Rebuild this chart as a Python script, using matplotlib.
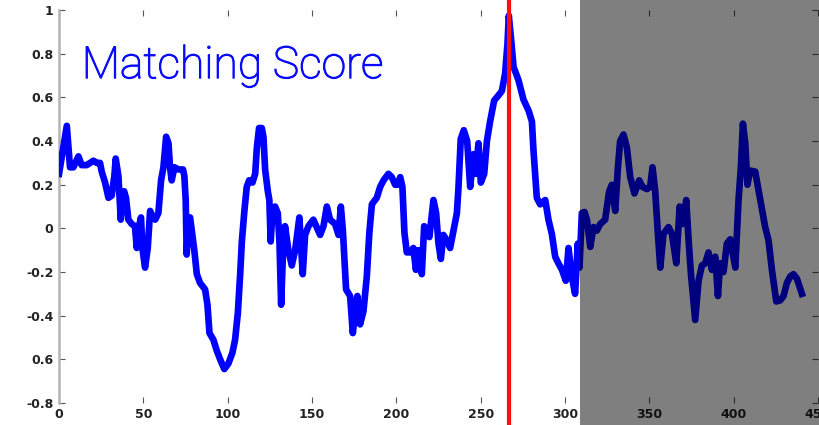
import matplotlib
matplotlib.use("Agg")
import matplotlib.pyplot as plt
import matplotlib.patheffects as pe
from matplotlib.patches import Rectangle

# matching score trace
frame = [0, 4.6, 6.5, 8.5, 11.5, 13.4, 16.4, 20.4, 22.4, 24.3, 25.3, 27.3, 29.3, 31.2,
         32.8, 33.6, 35.2, 36.6, 37.2, 38.6, 39.7, 41.1, 43.1, 45, 46.1, 47.4, 48.6, 49.4,
         51, 52.6, 54, 55.6, 57, 58.9, 60.5, 61.9, 63.5, 64.9, 65.8, 66.8, 68.4, 70.8,
         73.5, 74.3, 75.1, 75.7, 76.7, 77.7, 78.7, 80.2, 81.7, 83.6, 86.6, 88, 89.2, 91.5,
         93.5, 95.5, 98, 100.4, 102.8, 104.4, 106, 107.4, 108.4, 109.9, 111.3, 112.7,
         114.7, 116.3, 117.3, 118.6, 120.2, 121.2, 122.2, 123.8, 124.7, 125.5, 126.5,
         128.1, 129.7, 130.7, 131.7, 132.7, 134, 136, 138, 140, 142.5, 144.5, 145.9,
         147.9, 150.8, 154.8, 156.8, 158.8, 160.7, 163.7, 165.7, 167.1, 168.3, 170.2,
         172.6, 174.2, 175.6, 176.9, 178.5, 180.5, 182.5, 184, 185.5, 186.4, 188.4, 190.4,
         192.4, 195.3, 197.3, 199.3, 200.9, 202.3, 203.6, 204.8, 206.2, 208.2, 210.1,
         211.6, 213.1, 215.1, 216.5, 218.1, 219.6, 222, 223.6, 225, 226.4, 227.9, 229.9,
         231.9, 233.9, 235.9, 236.8, 238.2, 240, 242, 243.8, 245.7, 247.1, 248.7, 250.1,
         252.1, 253.7, 255.6, 258, 260.6, 262.6, 264.5, 265.9, 266.7, 268.3, 269.5,
         272.4, 275.4, 278.4, 280.4, 281.3, 283.3, 285.3, 288.3, 290.2, 292.2, 294.2,
         296.1, 298.2, 300.5, 302.1, 304, 306, 307.6, 308.6, 310, 311.6, 313, 315, 316.9,
         318.9, 320.9, 323.8, 326.2, 327.8, 329.8, 331.4, 332.7, 334.7, 336.7, 338.7,
         341.2, 344, 346, 348.6, 350.5, 351.9, 353.5, 355.1, 356.5, 358.4, 361.4, 363.4,
         366, 368, 369.9, 371.9, 373.3, 374.7, 377.2, 379.2, 381.2, 383.2, 385.1, 387.1,
         389.1, 390.7, 392, 394, 396, 398, 401, 402.9, 404.3, 405.5, 406.9, 408.2, 409.8,
         412.8, 415.8, 418.7, 420.7, 422.7, 425.3, 427.6, 429.6, 431.6, 433.6, 435.5,
         437.5, 440.5]
score = [0.25, 0.47, 0.28, 0.28, 0.33, 0.29, 0.29, 0.31, 0.30, 0.30, 0.26, 0.21, 0.14, 0.15,
         0.24, 0.32, 0.24, 0.04, 0.13, 0.17, 0.14, 0.04, 0.02, 0.01, -0.09, 0.01, 0.05, -0.09,
         -0.18, -0.09, 0.08, 0.05, 0.04, 0.07, 0.22, 0.28, 0.42, 0.39, 0.28, 0.22, 0.28, 0.27,
         0.27, 0.24, 0.13, -0.12, 0.04, 0.05, -0.01, -0.10, -0.21, -0.25, -0.28, -0.35, -0.48,
         -0.51, -0.56, -0.60, -0.645, -0.62, -0.57, -0.51, -0.39, -0.21, -0.06, 0.08, 0.19,
         0.22, 0.21, 0.25, 0.37, 0.46, 0.46, 0.42, 0.27, 0.17, 0.13, -0.06, 0.07, 0.10, 0.07,
         -0.06, -0.35, -0.13, 0.01, -0.10, -0.17, -0.10, 0.05, -0.21, -0.03, 0.01, 0.04, -0.03,
         0.01, 0.10, 0.04, 0.02, -0.03, 0.10, -0.01, -0.28, -0.31, -0.48, -0.38, -0.31, -0.44,
         -0.38, -0.22, -0.02, 0.11, 0.12, 0.14, 0.19, 0.22, 0.25, 0.235, 0.20, 0.20, 0.235,
         0.19, -0.02, -0.11, -0.11, -0.09, -0.19, -0.10, -0.21, 0.01, -0.01, -0.04, 0.13, 0.07,
         -0.07, -0.14, -0.03, -0.055, -0.09, -0.01, 0.07, 0.18, 0.41, 0.45, 0.40, 0.19, 0.34,
         0.25, 0.39, 0.21, 0.25, 0.40, 0.49, 0.586, 0.61, 0.63, 0.71, 0.845, 0.975, 0.845,
         0.74, 0.68, 0.59, 0.54, 0.49, 0.36, 0.14, 0.11, 0.13, 0.04, -0.025, -0.13, -0.16,
         -0.19, -0.24, -0.09, -0.22, -0.30, -0.07, -0.18, 0.07, 0.075, 0.04, -0.085, 0.006,
         -0.01, 0.02, 0.04, 0.17, 0.20, 0.08, 0.28, 0.40, 0.43, 0.37, 0.235, 0.16, 0.22, 0.19,
         0.18, 0.19, 0.28, 0.17, -0.025, -0.18, -0.025, 0.006, -0.025, -0.16, 0.10, 0.02, 0.13,
         -0.055, -0.21, -0.42, -0.24, -0.17, -0.16, -0.11, -0.19, -0.13, -0.31, -0.16, -0.20,
         -0.07, -0.05, -0.18, 0.13, 0.28, 0.48, 0.39, 0.20, 0.265, 0.26, 0.13, 0.006, -0.055,
         -0.19, -0.335, -0.33, -0.31, -0.25, -0.22, -0.21, -0.23, -0.30]

xticks = [0, 50, 100, 150, 200, 250, 300, 350, 400, 450]
yticks = [-0.8, -0.6, -0.4, -0.2, 0, 0.2, 0.4, 0.6, 0.8, 1]
ytick_labels = ["-0.8", "0.6", "-0.4", "-0.2", "0", "0.2", "0.4", "0.6", "0.8", "1"]

best_match = 267      # red marker
masked_from = 309     # start of greyed-out part

fig = plt.figure(figsize=(8.2, 4.25), dpi=100)
ax = fig.add_axes([0.072, 0.052, 0.9255, 0.924])

ax.plot(frame, score, color="#0000ff", lw=4.8, solid_joinstyle="round", zorder=3)
ax.plot([best_match, best_match], [-0.89, 1.06], color="#ff1010", lw=3.0,
        clip_on=False, zorder=4)
ax.add_patch(Rectangle((masked_from, -0.9), 200, 2.0, facecolor="black", alpha=0.5,
                       edgecolor="none", clip_on=False, zorder=5))

ax.set_xlim(0, 450)
ax.set_ylim(-0.8, 1.0)
ax.set_xticks(xticks)
ax.set_yticks(yticks)
ax.set_yticklabels(ytick_labels)

for s in ["top", "right", "bottom"]:
    ax.spines[s].set_visible(False)
ax.spines["left"].set_color("#b4b4b4")
ax.spines["left"].set_linewidth(1.8)

ax.tick_params(direction="in", length=4, width=0.8, color="#555555",
               top=True, right=True, labelsize=9)
ax.tick_params(axis="y", pad=4)
ax.tick_params(axis="x", pad=4)
for lab in ax.get_xticklabels() + ax.get_yticklabels():
    lab.set_fontweight("bold")
    lab.set_color("#222222")

ax.text(0.030, 0.827, "Matching Score", transform=ax.transAxes, color="#0a0aff",
        fontsize=32, family="Roboto", fontweight="light", va="baseline", zorder=6,
        path_effects=[pe.Stroke(linewidth=0.8, foreground="#0a0aff"), pe.Normal()])

fig.savefig("out.png", dpi=100)
